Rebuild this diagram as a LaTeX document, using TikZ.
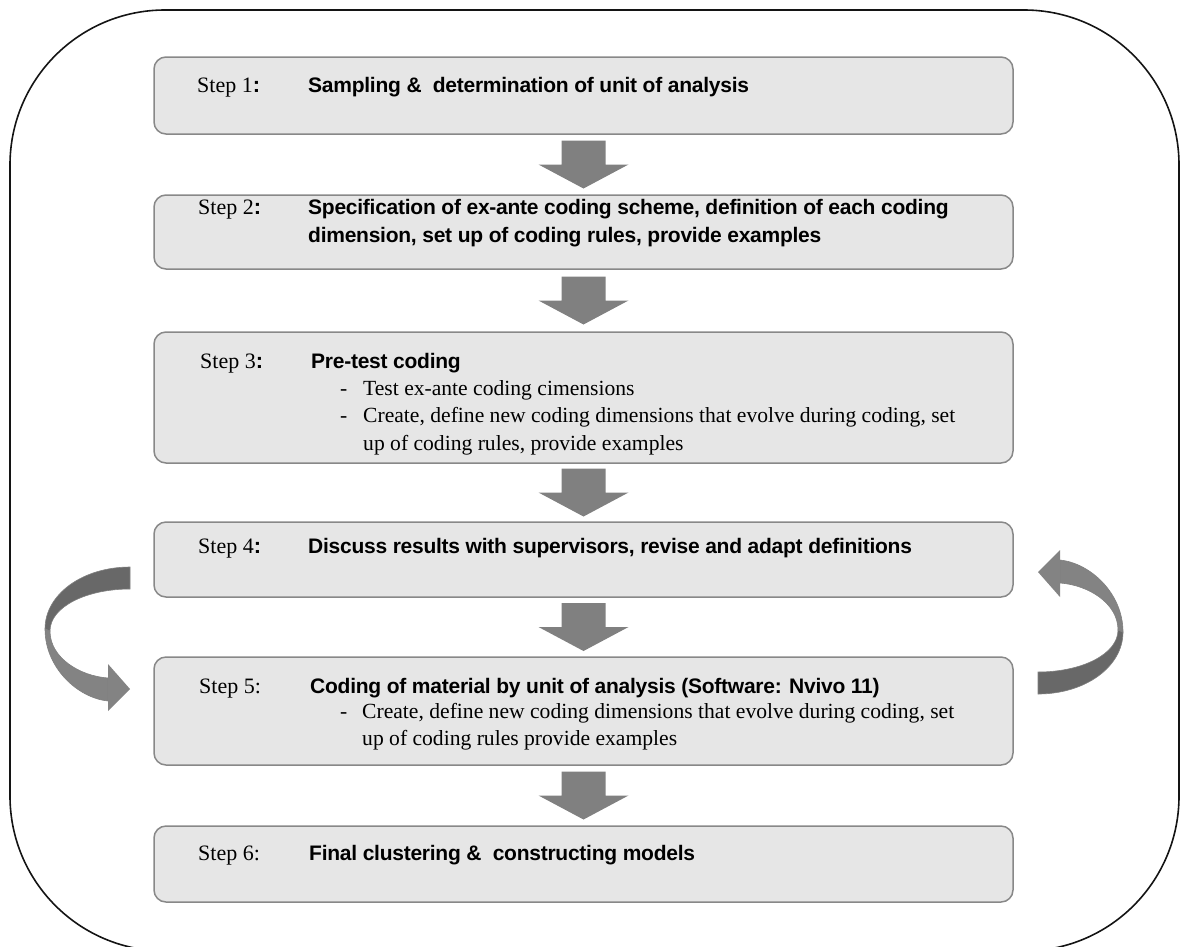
\documentclass[tikz,border=0pt]{standalone}
\usepackage{fontspec}
\setmainfont{Liberation Serif}
\setsansfont{Liberation Sans}
\newfontfamily\titlefont{Liberation Sans}[LetterSpace=-1.2]
\usetikzlibrary{calc}

\definecolor{boxfill}{HTML}{E6E6E6}
\definecolor{boxline}{HTML}{888888}
\definecolor{arrowgray}{HTML}{808080}
\definecolor{banddark}{HTML}{686868}
\definecolor{bandlight}{HTML}{838383}

\tikzset{
  stepbox/.style={draw=boxline, fill=boxfill, line width=1.5pt, rounded corners=12pt,
    minimum width=859pt, inner sep=0pt},
  steplabel/.style={anchor=base west, inner sep=0pt, font=\fontsize{22}{26}\selectfont},
  steptitle/.style={anchor=base west, inner sep=0pt, font=\fontsize{21}{26}\selectfont\titlefont\bfseries},
  itemtext/.style={anchor=base west, inner sep=0pt, font=\fontsize{21.6}{26}\selectfont},
  downarr/.pic={\fill[arrowgray] (-22,-24) -- (22,-24) -- (22,0) -- (45,0) -- (0,24)
    -- (-45,0) -- (-22,0) -- cycle;},
  bandedge/.style={draw=arrowgray, line width=0.6pt}
}

% bold sans colon used after the first step numbers
\newcommand{\bcolon}{\textsf{\textbf{:}}}
% twisted U-shaped return arrow, drawn in pixel units
\newcommand{\returnarrow}{%
  \filldraw[fill=banddark, bandedge] (130,567) .. controls (83,567) and (45,594) .. (45,629)
    -- (50,631) .. controls (50,607) and (86,589) .. (130,589) -- cycle;
  \filldraw[fill=bandlight, bandedge] (45,629) .. controls (45,668) and (78,698) .. (108,701)
    -- (108,678) .. controls (80,676) and (50,658) .. (50,631) -- cycle;
  \fill[bandlight] (108,664) -- (130,689) -- (108,711) -- cycle;
}

\begin{document}
\begin{tikzpicture}[x=1pt, y=-1pt]
  \useasboundingbox (0,0) rectangle (1185,946);
  \clip (0,0) rectangle (1185,946);

  % outer frame
  \draw[line width=1.6pt, black!92, rounded corners=155pt] (10,10) rectangle (1179,951);

  % step boxes
  \node[stepbox, minimum height=77pt]  (s1) at (583.5,95.5) {};
  \node[stepbox, minimum height=74pt]  (s2) at (583.5,232) {};
  \node[stepbox, minimum height=131pt] (s3) at (583.5,397.5) {};
  \node[stepbox, minimum height=75pt]  (s4) at (583.5,559.5) {};
  \node[stepbox, minimum height=108pt] (s5) at (583.5,711) {};
  \node[stepbox, minimum height=76pt]  (s6) at (583.5,864) {};

  % flow arrows between consecutive steps
  \pic at ($(s1.south)!0.5!(s2.north)$) {downarr};
  \pic at ($(s2.south)!0.5!(s3.north)$) {downarr};
  \pic at ($(s3.south)!0.5!(s4.north)$) {downarr};
  \pic at ($(s4.south)!0.5!(s5.north)$) {downarr};
  \pic at ($(s5.south)!0.5!(s6.north)$) {downarr};

  % loop arrows between step 4 and step 5
  \returnarrow
  \begin{scope}[rotate around={180:(584,630.5)}]
    \returnarrow
  \end{scope}

  % step 1
  \node[steplabel] (l1) at (197,92) {Step 1\bcolon};
  \node[steptitle] (h1) at (308,92) {Sampling \&\ \ determination of unit of analysis};

  % step 2
  \node[steplabel] (l2) at (198,214) {Step 2\bcolon};
  \node[steptitle] (h2a) at (308,214) {Specification of ex-ante coding scheme, definition of each coding};
  \node[steptitle] (h2b) at (308,242) {dimension, set up of coding rules, provide examples};

  % step 3
  \node[steplabel] (l3) at (200,368) {Step 3\bcolon};
  \node[steptitle] (h3) at (311,368) {Pre-test coding};
  \node[itemtext] (i3a) at (340,395) {\makebox[23pt][l]{-}Test ex-ante coding cimensions};
  \node[itemtext] (i3b) at (340,422) {\makebox[23pt][l]{-}Create, define new coding dimensions that evolve during coding, set};
  \node[itemtext] (i3c) at (363,450) {up of coding rules, provide examples};

  % step 4
  \node[steplabel] (l4) at (198,553) {Step 4\bcolon};
  \node[steptitle] (h4) at (308,553) {Discuss results with supervisors, revise and adapt definitions};

  % step 5
  \node[steplabel] (l5) at (199,693) {Step 5:};
  \node[steptitle] (h5) at (310,693) {Coding of material by unit of analysis (Software: Nvivo 11)};
  \node[itemtext] (i5a) at (340,718) {\makebox[22pt][l]{-}Create, define new coding dimensions that evolve during coding, set};
  \node[itemtext] (i5b) at (362,745) {up of coding rules provide examples};

  % step 6
  \node[steplabel] (l6) at (198,860) {Step 6:};
  \node[steptitle] (h6) at (309,860) {Final clustering \&\ \ constructing models};
\end{tikzpicture}
\end{document}
